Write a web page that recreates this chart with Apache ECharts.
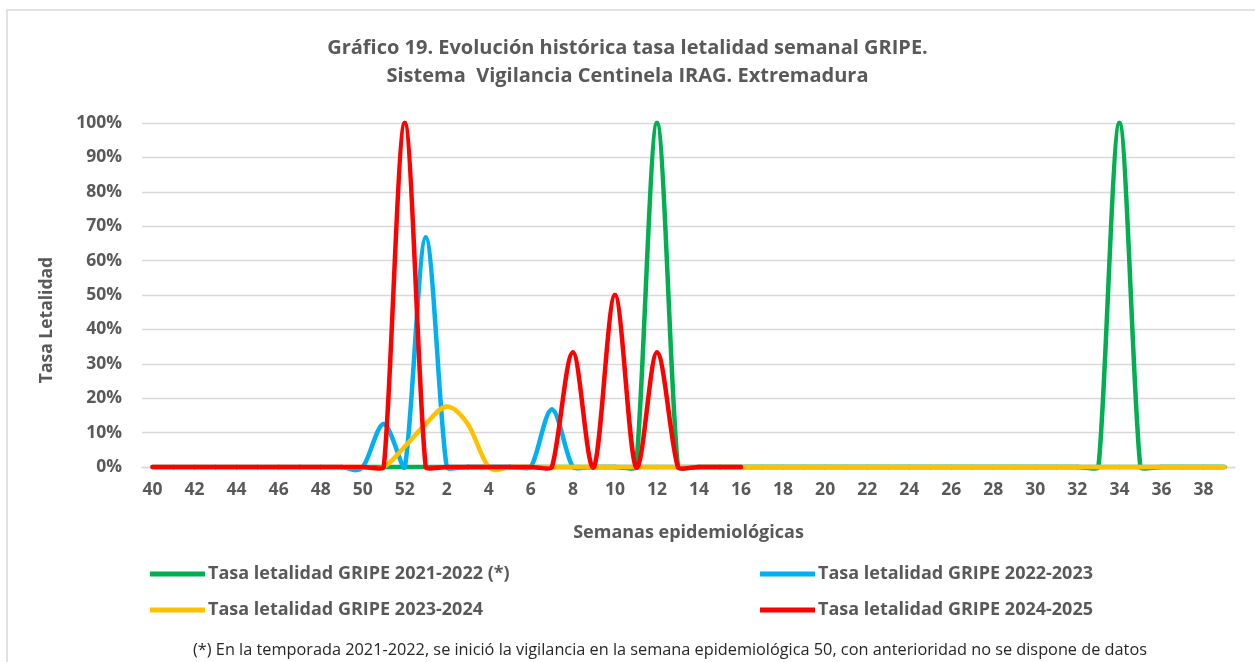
<!DOCTYPE html>
<html>
<head>
<meta charset="utf-8">
<title>Gráfico 19</title>
<script src="https://cdn.jsdelivr.net/npm/echarts@6/dist/echarts.min.js"></script>
<style>
  html, body { margin: 0; padding: 0; background: #fff; }
  #chart { width: 1255px; height: 662px; }
</style>
</head>
<body>
<div id="chart"></div>
<script>
// semanas epidemiológicas (40..52, 1..39)
const weeks = [
  "40", "41", "42", "43", "44", "45", "46", "47", "48", "49", "50", "51", "52",
  "1", "2", "3", "4", "5", "6", "7", "8", "9", "10", "11", "12", "13", "14", "15",
  "16", "17", "18", "19", "20", "21", "22", "23", "24", "25", "26", "27", "28",
  "29", "30", "31", "32", "33", "34", "35", "36", "37", "38", "39"
];

// tasa letalidad (%) por temporada
const gripe2122 = [
  null, null, null, null, null, null, null, null, null, null, 0, 0, 0,
  0, 0, 0, 0, 0, 0, 0, 0, 0, 0, 0, 100, 0, 0, 0,
  0, 0, 0, 0, 0, 0, 0, 0, 0, 0, 0, 0, 0,
  0, 0, 0, 0, 0, 100, 0, 0, 0, 0, 0
];
const gripe2223 = [
  0, 0, 0, 0, 0, 0, 0, 0, 0, 0, 0, 12.5, 0,
  66.7, 0, 0, 0, 0, 0, 16.7, 0, 0, 0, 0, 0, 0, 0, 0,
  0, 0, 0, 0, 0, 0, 0, 0, 0, 0, 0, 0, 0,
  0, 0, 0, 0, 0, 0, 0, 0, 0, 0, 0
];
const gripe2324 = [
  0, 0, 0, 0, 0, 0, 0, 0, 0, 0, 0, 0, 5.9,
  12.5, 17.6, 12.5, 0, 0, 0, 0, 0, 0, 0, 0, 0, 0, 0, 0,
  0, 0, 0, 0, 0, 0, 0, 0, 0, 0, 0, 0, 0,
  0, 0, 0, 0, 0, 0, 0, 0, 0, 0, 0
];
const gripe2425 = [
  0, 0, 0, 0, 0, 0, 0, 0, 0, 0, 0, 0, 100,
  0, 0, 0, 0, 0, 0, 0, 33.3, 0, 50, 0, 33.3, 0, 0, 0,
  0
];

const seriesNames = [
  "Tasa letalidad GRIPE 2021-2022 (*)",
  "Tasa letalidad GRIPE 2022-2023",
  "Tasa letalidad GRIPE 2023-2024",
  "Tasa letalidad GRIPE 2024-2025"
];
const colors = ["#00B050", "#00B0F0", "#FFC000", "#FF0000"];

const chart = echarts.init(document.getElementById("chart"));

const FONT = "Open Sans";
const GREY = "#595959";

// curva suavizada tipo Excel: bezier por tramo, puntos de control a 1/6,
// recortados cuando el tramo es corto frente a los vecinos
function dist(a, b) {
  return Math.hypot(b[0] - a[0], b[1] - a[1]);
}

function armFactor(dSeg, dNb) {
  if (dNb <= 0) return 0;
  return dNb / 6 >= dSeg / 2 ? dSeg / (6 * dNb) : 1 / 6;
}

function makeSeries(i, values) {
  const has = (k) => k >= 0 && k < values.length && values[k] != null;
  return {
    name: seriesNames[i],
    type: "custom",
    coordinateSystem: "cartesian2d",
    data: values.map((v, k) => [k, v]),
    encode: { x: 0, y: 1 },
    itemStyle: { color: colors[i] },
    z: 2 + i,
    silent: true,
    renderItem: function (params, api) {
      const k = params.dataIndex;
      if (!has(k) || !has(k + 1)) return null;
      const pt = (j) => api.coord([j, values[j]]);
      const p1 = pt(k);
      const p2 = pt(k + 1);
      const p0 = has(k - 1) ? pt(k - 1) : p1;
      const p3 = has(k + 2) ? pt(k + 2) : p2;
      const d12 = dist(p1, p2);
      const f1 = armFactor(d12, dist(p0, p2));
      const f2 = armFactor(d12, dist(p1, p3));
      return {
        type: "bezierCurve",
        shape: {
          x1: p1[0], y1: p1[1],
          x2: p2[0], y2: p2[1],
          cpx1: p1[0] + (p2[0] - p0[0]) * f1,
          cpy1: p1[1] + (p2[1] - p0[1]) * f1,
          cpx2: p2[0] - (p3[0] - p1[0]) * f2,
          cpy2: p2[1] - (p3[1] - p1[1]) * f2
        },
        style: {
          fill: null,
          stroke: colors[i],
          lineWidth: 4.5,
          lineCap: "round"
        }
      };
    }
  };
}

// una leyenda por elemento para colocarlas en 2 columnas
function makeLegend(i, left, top) {
  return {
    data: [seriesNames[i]],
    left: left,
    top: top,
    padding: 0,
    icon: "rect",
    itemWidth: 55,
    itemHeight: 5,
    selectedMode: false,
    textStyle: {
      fontFamily: FONT,
      fontWeight: "bold",
      fontSize: 18,
      color: GREY,
      padding: [0, 0, 0, -2]
    }
  };
}

const options = {
  animation: false,
  color: colors,
  title: [
    {
      text: "Gráfico 19. Evolución histórica tasa letalidad semanal GRIPE.\nSistema  Vigilancia Centinela IRAG. Extremadura",
      left: "center",
      top: 29,
      textStyle: {
        fontFamily: FONT,
        fontWeight: "bold",
        fontSize: 20,
        lineHeight: 28,
        color: GREY
      }
    },
    {
      text: "(*) En la temporada 2021-2022, se inició la vigilancia en la semana epidemiológica 50, con anterioridad no se dispone de datos",
      left: 665,
      textAlign: "center",
      top: 637,
      textStyle: {
        fontFamily: FONT,
        fontWeight: "normal",
        fontSize: 16.3,
        color: "#262626"
      }
    }
  ],
  legend: [
    makeLegend(0, 150, 565),
    makeLegend(1, 760, 565),
    makeLegend(2, 150, 601),
    makeLegend(3, 760, 601)
  ],
  grid: {
    left: 142,
    right: 20,
    top: 123,
    bottom: 195,
    containLabel: false
  },
  graphic: [
    {
      type: "rect",
      shape: { x: 7, y: 10, width: 1300, height: 700 },
      style: { fill: "none", stroke: "#d9d9d9", lineWidth: 1.5 },
      silent: true
    },
    {
      type: "text",
      x: 47,
      y: 320,
      rotation: Math.PI / 2,
      style: {
        text: "Tasa Letalidad",
        align: "center",
        verticalAlign: "middle",
        fontFamily: FONT,
        fontWeight: "bold",
        fontSize: 17.5,
        fill: GREY
      }
    }
  ],
  xAxis: {
    type: "category",
    data: weeks,
    boundaryGap: true,
    name: "Semanas epidemiológicas",
    nameLocation: "middle",
    nameGap: 57,
    nameTextStyle: {
      fontFamily: FONT,
      fontWeight: "bold",
      fontSize: 18,
      color: GREY
    },
    axisLine: { show: true, lineStyle: { color: "#d9d9d9", width: 1.3 } },
    axisTick: { show: false },
    axisLabel: {
      interval: 1,
      margin: 14,
      fontFamily: FONT,
      fontWeight: "bold",
      fontSize: 17.5,
      color: GREY
    }
  },
  yAxis: {
    type: "value",
    min: 0,
    max: 100,
    interval: 10,
    axisLine: { show: false },
    axisTick: { show: false },
    splitLine: { lineStyle: { color: "#d9d9d9", width: 1.3 } },
    axisLabel: {
      formatter: "{value}%",
      margin: 20,
      fontFamily: FONT,
      fontWeight: "bold",
      fontSize: 17.5,
      color: GREY
    }
  },
  series: [
    makeSeries(0, gripe2122),
    makeSeries(1, gripe2223),
    makeSeries(2, gripe2324),
    makeSeries(3, gripe2425)
  ]
};

chart.setOption(options);
</script>
</body>
</html>
